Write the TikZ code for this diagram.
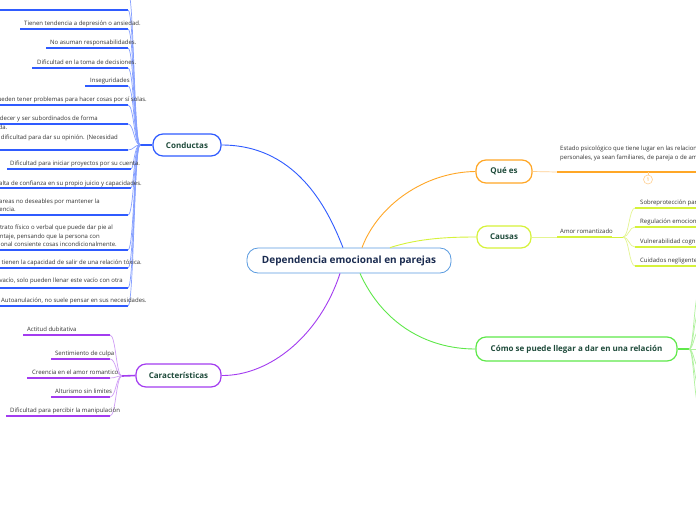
\documentclass[tikz,border=0pt]{standalone}
\usepackage{fontspec}
\setmainfont{Open Sans}
\definecolor{cblue}{HTML}{2F5BFF}
\definecolor{cblueL}{HTML}{86A0FF}
\definecolor{corange}{HTML}{FFA726}
\definecolor{corangeL}{HTML}{FFCF8F}
\definecolor{cyg}{HTML}{D6F23A}
\definecolor{cygL}{HTML}{E4F590}
\definecolor{cgreen}{HTML}{5FE84A}
\definecolor{cgreenL}{HTML}{B0F29E}
\definecolor{cpurple}{HTML}{A33CF0}
\definecolor{cpurpleL}{HTML}{CF9CF6}
\definecolor{lbl}{HTML}{1F4B3B}
\definecolor{navy}{HTML}{1A2B50}
\definecolor{cenb}{HTML}{5A9BE0}
\definecolor{txt}{HTML}{333333}
\begin{document}
\begin{tikzpicture}[x=1pt,y=-1pt,
  branch/.style={draw,line width=1.2pt,rounded corners=10pt,fill=white,
    font=\bfseries\fontsize{8}{10}\selectfont,text=lbl,inner sep=0pt},
  itemtext/.style={font=\fontsize{6}{8.5}\selectfont,text=txt,inner sep=0pt},
  uline/.style={line width=1.4pt},
  twig/.style={line width=0.7pt},
  conn/.style={line width=0.9pt}]
\useasboundingbox[fill=white] (0,0) rectangle (696,520);

% ---------- central ----------
\node[draw=cenb,line width=0.8pt,rounded corners=11pt,fill=white,minimum width=204pt,minimum height=25pt,
  inner sep=0pt,font=\bfseries\fontsize{10}{12}\selectfont,text=navy] (central) at (349,260.5) {Dependencia emocional en parejas};

% ---------- branch nodes ----------
\node[branch,draw=cblue,minimum width=68pt,minimum height=22pt] (conductas) at (187,145) {Conductas};
\node[branch,draw=cpurple,minimum width=85pt,minimum height=23pt] (caract) at (178.5,375.5) {Características};
\node[branch,draw=corange,minimum width=56pt,minimum height=23pt] (quees) at (504,171.5) {Qué es};
\node[branch,draw=cyg,minimum width=54pt,minimum height=22pt] (causas) at (504,237) {Causas};
\node[branch,draw=cgreen,minimum width=201pt,minimum height=24pt] (como) at (576.5,349) {Cómo se puede llegar a dar en una relación};

% ---------- central connectors ----------
\draw[conn,cblue] (conductas.east) .. controls (300,145) and (330,215) .. ([xshift=-6pt]central.north);
\draw[conn,corange] ([xshift=13pt]central.north) .. controls (378,205) and (425,172) .. (quees.west);
\draw[conn,cyg] ([xshift=41pt]central.north) .. controls (420,238) and (450,237) .. (causas.west);
\draw[conn,cpurple] ([xshift=-9pt]central.south) .. controls (320,335) and (270,376) .. (caract.east);
\draw[conn,cgreen] ([xshift=11pt]central.south) .. controls (382,322) and (425,349) .. (como.west);

% ---------- Conductas subtree ----------
\coordinate (hubC) at (140,145);
\draw[cblue,line width=1.6pt] (hubC) -- (conductas.west);
\foreach \yy/\xx/\xe in {-9/0/128,10/-5/128,29/20/128,48/46/128,68/32/128,86/85/128,105/-5/128,124/-5/128,150/-5/128,169/7/131,188/-5/131,215/-5/128,250/-5/128,268/-5/128,288/-5/128,306/-5/128}{
  \draw[cblue,uline] (\xx,\yy) -- (\xe,\yy);
  \draw[cblueL,twig] (\xe,\yy) .. controls (134,\yy) and (134,145) .. (hubC);
}
\node[itemtext,anchor=base west] (c2) at (24,25) {Tienen tendencia a depresión o ansiedad.};
\node[itemtext,anchor=base west] (c3) at (50,44.5) {No asuman responsabilidades.};
\node[itemtext,anchor=base west] (c4) at (37,64) {Dificultad en la toma de decisiones.};
\node[itemtext,anchor=base west] (c5) at (90,82) {Inseguridades};
\node[itemtext,anchor=base east] (c6) at (147,101) {Pueden tener problemas para hacer cosas por sí solas.};
\node[itemtext,anchor=base east] (c7a) at (98,120) {Obedecer y ser subordinados de forma};
\node[itemtext,anchor=base east] (c7b) at (7.5,129) {sumisa y callada.};
\node[itemtext,anchor=base east] (c8) at (118,139) {Tiene dificultad para dar su opinión. (Necesidad};
\node[itemtext,anchor=base west] (c9) at (10,165.5) {Dificultad para iniciar proyectos por su cuenta.};
\node[itemtext,anchor=base east] (c10) at (142,185) {Falta de confianza en su propio juicio y capacidades.};
\node[itemtext,anchor=base east] (c11a) at (100,203) {Realizan tareas no deseables por mantener la};
\node[itemtext,anchor=base east] (c11b) at (16,211.5) {dependencia.};
\node[itemtext,anchor=base east] (c12a) at (113,229.5) {Aceptan maltrato físico o verbal que puede dar pie al};
\node[itemtext,anchor=base east] (c12b) at (100,238) {chantaje, pensando que la persona con};
\node[itemtext,anchor=base east] (c12c) at (117,246.5) {dependencia emocional consiente cosas incondicionalmente.};
\node[itemtext,anchor=base east] (c13) at (142,264) {No tienen la capacidad de salir de una relación tóxica.};
\node[itemtext,anchor=base east] (c14) at (123,282.5) {Sienten vacío, solo pueden llenar este vacío con otra};
\node[itemtext,anchor=base west] (c15) at (1,302) {Autoanulación, no suele pensar en sus necesidades.};

% ---------- Caracteristicas subtree ----------
\coordinate (hubK) at (122,376);
\draw[cpurple,line width=1.6pt] (hubK) -- (caract.west);
\foreach \yy/\xx in {335/23,359/51,378/27,397/51,416/6}{
  \draw[cpurple,uline] (\xx,\yy) -- (110,\yy);
  \draw[cpurpleL,twig] (110,\yy) .. controls (116,\yy) and (116,376) .. (hubK);
}
\node[itemtext,anchor=base west] (k1) at (27,331) {Actitud dubitativa};
\node[itemtext,anchor=base west] (k2) at (55,355) {Sentimiento de culpa};
\node[itemtext,anchor=base west] (k3) at (32,374) {Creencia en el amor romantico};
\node[itemtext,anchor=base west] (k4) at (55,393) {Alturismo sin limites};
\node[itemtext,anchor=base west] (k5) at (10,412) {Dificultad para percibir la manipulación};

% ---------- Que es ----------
\coordinate (qa) at (557,172);
\draw[corangeL,twig] (quees.east) -- (qa);
\draw[corange,uline] (qa) -- (700,172);
\node[itemtext,anchor=base west,align=left] (q1) at (560,159) {Estado psicológico que tiene lugar en las relaciones\\personales, ya sean familiares, de pareja o de amistad.};
\node[draw=corangeL,circle,line width=0.6pt,minimum size=9pt,inner sep=0pt,text=corange,
  font=\fontsize{5}{6}\selectfont] (qn) at (648,179.5) {1};
\draw[corangeL,twig] (648,172) -- (qn.north);

% ---------- Causas ----------
\coordinate (ca) at (557,237);
\coordinate (hubA) at (623,237);
\draw[cygL,twig] (causas.east) -- (ca);
\draw[cyg,uline] (ca) -- (612,237);
\draw[cyg,line width=1pt] (612,237) -- (hubA);
\node[itemtext,anchor=base west] (a0) at (560,233) {Amor romantizado};
\foreach \yy in {208,227,247,266}{
  \draw[cyg,uline] (635,\yy) -- (700,\yy);
  \draw[cygL,twig] (hubA) .. controls (629,237) and (629,\yy) .. (635,\yy);
}
\node[itemtext,anchor=base west] (a1) at (640,204) {Sobreprotección parental};
\node[itemtext,anchor=base west] (a2) at (640,223) {Regulación emocional};
\node[itemtext,anchor=base west] (a3) at (640,243) {Vulnerabilidad cognitiva};
\node[itemtext,anchor=base west] (a4) at (640,262) {Cuidados negligentes};

% ---------- Como ----------
\coordinate (hubG) at (689,349);
\draw[cgreen,line width=1.2pt] (como.east) -- (hubG);
\foreach \yy in {290,310,330,349,368,388,408}{
  \draw[cgreenL,twig] (hubG) .. controls (694,349) and (694,\yy) .. (700,\yy);
}
\end{tikzpicture}
\end{document}
